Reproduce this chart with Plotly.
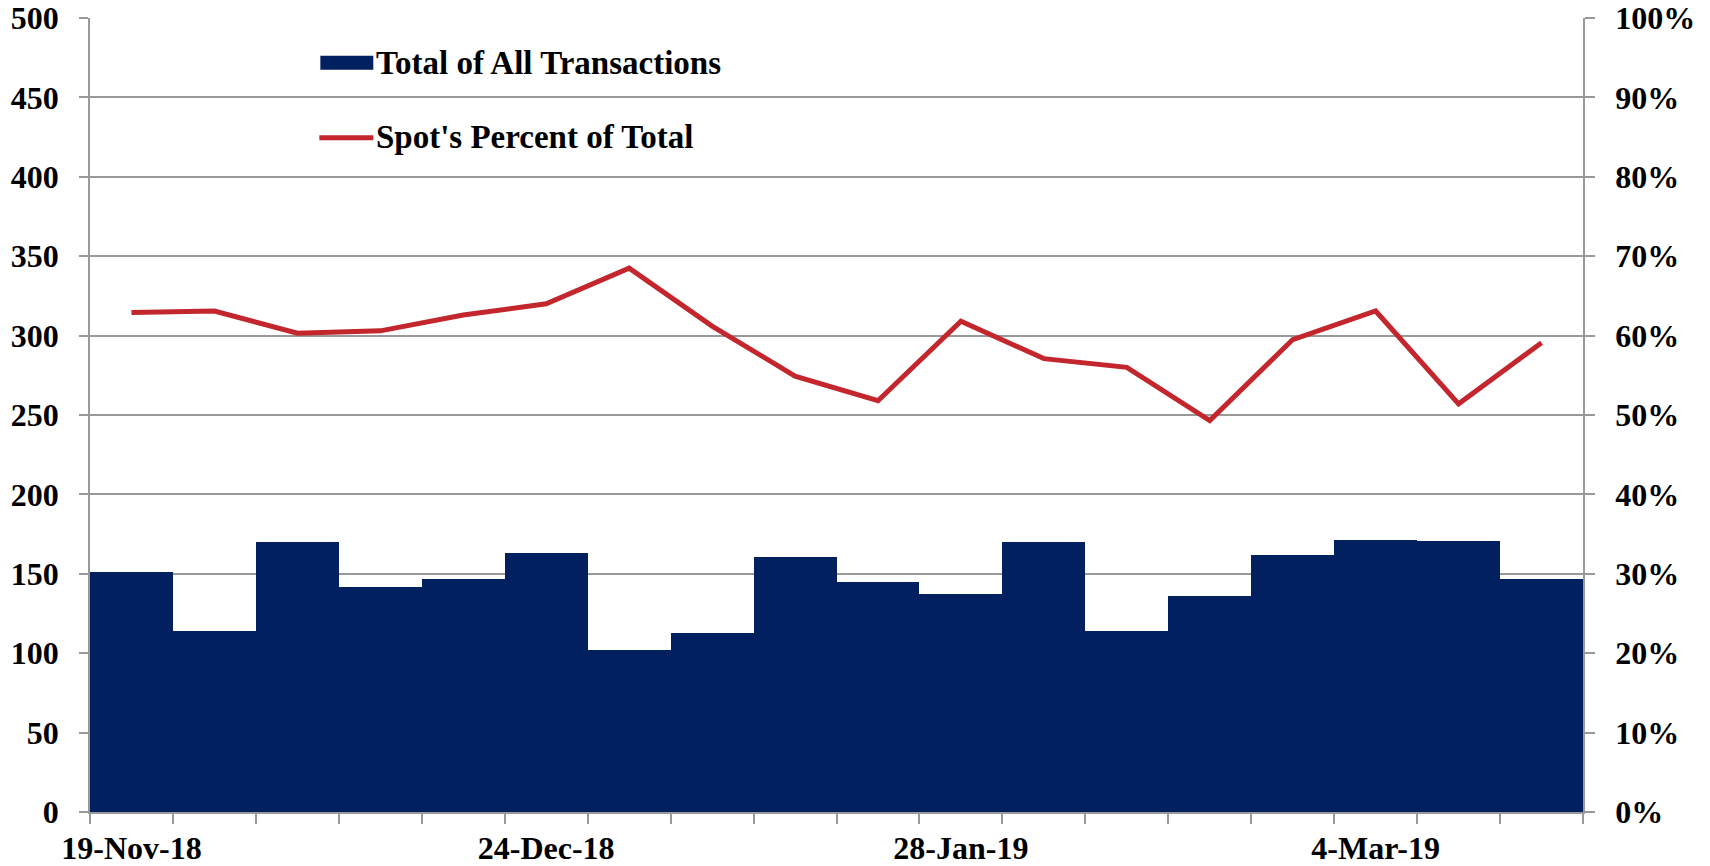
import plotly.graph_objects as go

weeks = ["19-Nov-18", "26-Nov-18", "3-Dec-18", "10-Dec-18", "17-Dec-18", "24-Dec-18",
         "31-Dec-18", "7-Jan-19", "14-Jan-19", "21-Jan-19", "28-Jan-19", "4-Feb-19",
         "11-Feb-19", "18-Feb-19", "25-Feb-19", "4-Mar-19", "11-Mar-19", "18-Mar-19"]
total_transactions = [151, 114, 170, 142, 147, 163, 102, 113, 160.5, 145, 137, 170,
                      114, 136, 162, 171, 170.4, 147]
spot_pct = [0.629, 0.631, 0.603, 0.606, 0.626, 0.640, 0.685, 0.612, 0.549, 0.518,
            0.618, 0.571, 0.560, 0.493, 0.595, 0.631, 0.514, 0.591]
label_weeks = ["19-Nov-18", "24-Dec-18", "28-Jan-19", "4-Mar-19"]

NAVY = "#002060"
RED = "#C3272D"
GRID = "#999999"
FONT = dict(family="Liberation Serif", size=32, color="black", weight="bold")
LFONT = dict(family="Liberation Serif", size=33, color="black", weight="bold")

x_idx = list(range(len(weeks)))
label_idx = [weeks.index(w) for w in label_weeks]

W, H = 1710, 866
L, R, T, B = 89.5, 126.5, 18.3, 54.3

fig = go.Figure()
fig.add_trace(go.Bar(x=x_idx, y=total_transactions, width=1, name="Total of All Transactions",
                     marker=dict(color=NAVY, line=dict(width=0)), showlegend=False))
fig.add_trace(go.Scatter(x=x_idx, y=spot_pct, yaxis="y2", mode="lines",
                         name="Spot's Percent of Total",
                         line=dict(color=RED, width=5), showlegend=False))

fig.update_layout(
    width=W, height=H,
    margin=dict(l=L, r=R, t=T, b=B, autoexpand=False),
    plot_bgcolor="white", paper_bgcolor="white",
    bargap=0,
    xaxis=dict(range=[-0.5, len(weeks) - 0.5], tickmode="array", tickvals=label_idx,
               ticktext=label_weeks, ticks="", tickfont=FONT, showline=True,
               linecolor=GRID, linewidth=1.5, showgrid=False, zeroline=False,
               ticklabelstandoff=7, automargin=False, ticklabeloverflow="allow",
               minor=dict(ticks="outside", tick0=-0.5, dtick=1, ticklen=10,
                          tickcolor=GRID, tickwidth=1.5, showgrid=False)),
    yaxis=dict(range=[0, 500], dtick=50, tickmode="linear", tick0=0, ticks="outside",
               ticklen=9, tickcolor=GRID, tickwidth=1.5, showline=True, linecolor=GRID,
               linewidth=1.5, showgrid=True, gridcolor=GRID, gridwidth=1.5,
               zeroline=False, tickfont=FONT, ticklabelstandoff=14, automargin=False,
               ticklabeloverflow="allow"),
    yaxis2=dict(range=[0, 1], dtick=0.1, tickmode="linear", tick0=0, tickformat=".0%",
                overlaying="y", side="right", ticks="outside", ticklen=10,
                tickcolor=GRID, tickwidth=1.5, showline=True, linecolor=GRID,
                linewidth=1.5, showgrid=False, zeroline=False, tickfont=FONT,
                ticklabelstandoff=14, automargin=False, ticklabeloverflow="allow"),
)

pw = W - L - R
ph = H - T - B
def px(xp):
    return (xp - L) / pw
def py(yp):
    return 1 - (yp - T) / ph

fig.add_shape(type="rect", xref="paper", yref="paper", x0=px(320), x1=px(373),
              y0=py(70), y1=py(56), fillcolor=NAVY, line=dict(width=0))
fig.add_shape(type="line", xref="paper", yref="paper", x0=px(319), x1=px(373),
              y0=py(138), y1=py(138), line=dict(color=RED, width=5))
fig.add_annotation(xref="paper", yref="paper", x=px(374), y=py(63), xanchor="left",
                   yanchor="middle", text="Total of All Transactions", showarrow=False,
                   font=LFONT)
fig.add_annotation(xref="paper", yref="paper", x=px(374), y=py(137), xanchor="left",
                   yanchor="middle", text="Spot's Percent of Total", showarrow=False,
                   font=LFONT)

fig.write_html("out.html", config={"displayModeBar": False},
               post_script="document.body.style.margin='0';document.body.style.overflow='hidden';")
